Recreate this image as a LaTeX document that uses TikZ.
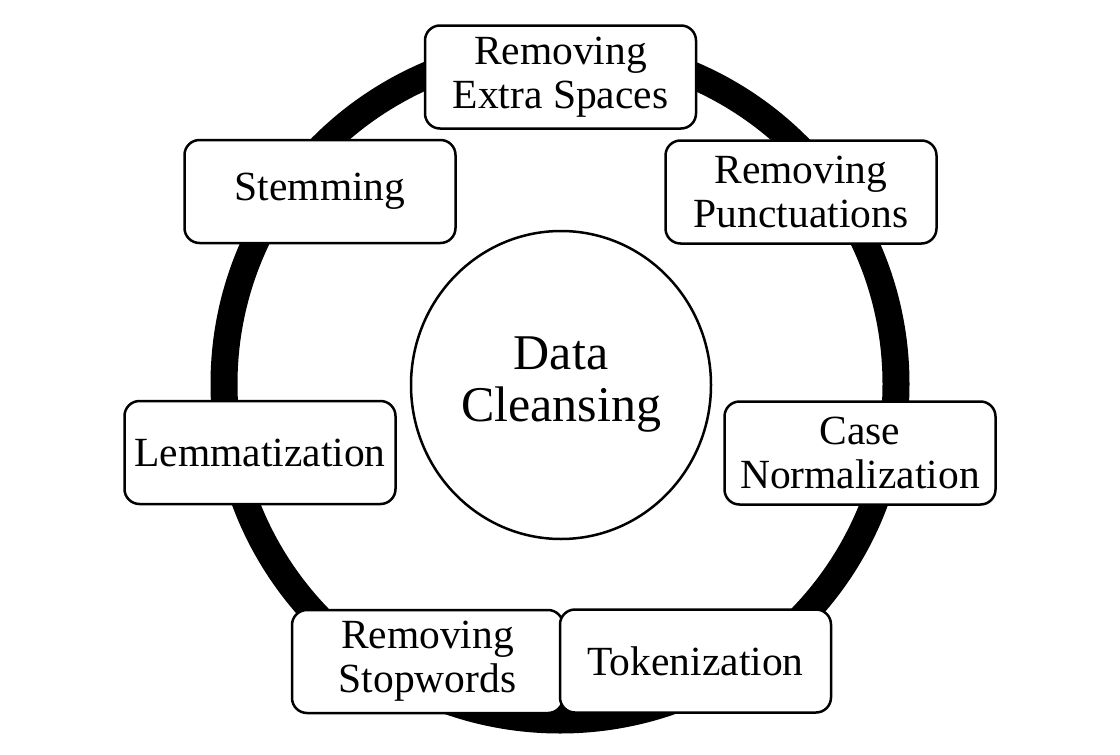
\documentclass[tikz,border=0pt]{standalone}
\usepackage{fontspec}
\setmainfont{Liberation Serif}
\begin{document}
\begin{tikzpicture}[x=1pt,y=-1pt,
  stepbox/.style={draw=black, line width=2.5pt, fill=white, rounded corners=15pt,
    minimum width=271pt, minimum height=103pt, align=center, inner sep=0pt,
    font=\fontsize{41.5}{44}\selectfont},
  ring/.style={draw=black, line width=27pt}]
\useasboundingbox (0,0) rectangle (1120,755);
\draw[ring] (560,384) circle[radius=336];
\draw[draw=black, line width=2.5pt, fill=white] (561,385) ellipse[x radius=150, y radius=154];
\node[font=\fontsize{50}{52}\selectfont, align=center] (dc) at (561,385) {Data\\Cleansing};
\node[stepbox] (es) at (560.5,77) {Removing\\Extra Spaces};
\node[stepbox] (st) at (320,191.5) {Stemming};
\node[stepbox] (pu) at (801,192) {Removing\\Punctuations};
\node[stepbox] (le) at (260,452.5) {Lemmatization};
\node[stepbox] (cn) at (860,453) {Case\\Normalization};
\node[stepbox] (sw) at (427.5,661.5) {Removing\\Stopwords};
\node[stepbox] (tk) at (695.5,661) {Tokenization};
\end{tikzpicture}
\end{document}
